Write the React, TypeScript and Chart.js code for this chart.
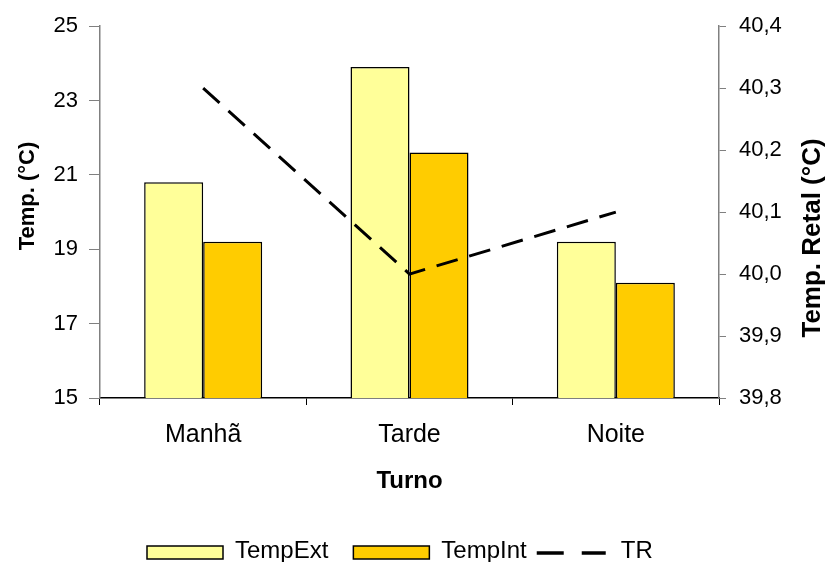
import React, { useEffect, useRef } from "react";
import { Chart, registerables } from "chart.js";

Chart.register(...registerables);

const categories = ["Manhã", "Tarde", "Noite"];
const tempExt = [20.8, 23.9, 19.2];
const tempInt = [19.2, 21.6, 18.1];
const tr = [40.3, 40.0, 40.1];
const leftTitle = "Temp. (°C)";
const rightTitle = "Temp. Retal (°C)";

const FONT = "'Liberation Sans', Arial, sans-serif";

const titlesPlugin = {
  id: "yTitles",
  afterDraw(chart: any) {
    const ctx = chart.ctx;
    ctx.save();
    ctx.fillStyle = "#000";
    ctx.textAlign = "center";
    ctx.textBaseline = "middle";
    ctx.font = `bold 22px ${FONT}`;
    ctx.save();
    ctx.translate(28, 196);
    ctx.rotate(-Math.PI / 2);
    ctx.fillText(leftTitle, 0, 0);
    ctx.restore();
    ctx.font = `bold 26px ${FONT}`;
    ctx.save();
    ctx.translate(813, 238);
    ctx.rotate(-Math.PI / 2);
    ctx.fillText(rightTitle, 0, 0);
    ctx.restore();
    ctx.restore();
  },
};

const legendPlugin = {
  id: "customLegend",
  afterDraw(chart: any) {
    const ctx = chart.ctx;
    ctx.save();
    ctx.font = `24px ${FONT}`;
    ctx.textBaseline = "alphabetic";
    ctx.fillStyle = "#000";
    let x = 147;
    const boxTop = 546;
    const boxH = 13;
    const textY = 558;
    const items = chart.data.datasets.map((d: any) => d);
    items.forEach((d: any, i: number) => {
      if (d.type === "line") {
        ctx.strokeStyle = "#000";
        ctx.lineWidth = 3.5;
        ctx.setLineDash([27, 18]);
        ctx.beginPath();
        ctx.moveTo(x, boxTop + 7);
        ctx.lineTo(x + 69, boxTop + 7);
        ctx.stroke();
        ctx.setLineDash([]);
        x += 69 + 15;
      } else {
        ctx.fillStyle = d.backgroundColor;
        ctx.fillRect(x, boxTop, 76, boxH);
        ctx.strokeStyle = "#000";
        ctx.lineWidth = 1.5;
        ctx.strokeRect(x, boxTop, 76, boxH);
        x += 76 + 12;
      }
      ctx.fillStyle = "#000";
      ctx.fillText(d.label, x, textY);
      x += ctx.measureText(d.label).width + 25;
      if (i === 1) x -= 15;
    });
    ctx.restore();
  },
};

export default function App() {
  const ref = useRef<HTMLCanvasElement | null>(null);
  useEffect(() => {
    if (!ref.current) return;
    const chart = new Chart(ref.current, {
      type: "bar",
      data: {
        labels: categories,
        datasets: [
          {
            type: "bar",
            label: "TempExt",
            data: tempExt,
            backgroundColor: "#FFFF99",
            borderColor: "#000",
            borderWidth: 1.5,
            borderSkipped: false,
            yAxisID: "y",
            categoryPercentage: 0.572,
            barPercentage: 1,
            order: 2,
          },
          {
            type: "bar",
            label: "TempInt",
            data: tempInt,
            backgroundColor: "#FFCC00",
            borderColor: "#000",
            borderWidth: 1.5,
            borderSkipped: false,
            yAxisID: "y",
            categoryPercentage: 0.572,
            barPercentage: 1,
            order: 2,
          },
          {
            type: "line",
            label: "TR",
            data: tr,
            borderColor: "#000",
            backgroundColor: "transparent",
            borderWidth: 3,
            borderDash: [22, 12],
            pointRadius: 0,
            fill: false,
            tension: 0,
            yAxisID: "y1",
            order: 1,
          } as any,
        ],
      },
      options: {
        animation: false,
        responsive: true,
        maintainAspectRatio: false,
        layout: { padding: { left: 14, right: 2, top: 23, bottom: 66 } },
        plugins: {
          legend: { display: false },
          tooltip: { enabled: false },
        },
        scales: {
          x: {
            offset: true,
            grid: {
              display: true,
              drawOnChartArea: false,
              drawTicks: true,
              tickLength: 7,
              color: "#000",
              offset: true,
            },
            border: { display: true, color: "#000", width: 1.5 },
            ticks: {
              color: "#000",
              font: { family: FONT, size: 25 },
              padding: 15,
              autoSkip: false,
              maxRotation: 0,
            },
            title: {
              display: true,
              text: "Turno",
              color: "#000",
              font: { family: FONT, size: 24, weight: "bold" },
              padding: 0,
            },
            afterFit: (s: any) => {
              s.height = 98;
            },
          },
          y: {
            position: "left",
            min: 15,
            max: 25,
            grid: {
              display: true,
              drawOnChartArea: false,
              drawTicks: true,
              tickLength: 11,
              color: "#808080",
            },
            border: { display: true, color: "#808080", width: 1.5 },
            ticks: {
              stepSize: 2,
              color: "#000",
              font: { family: FONT, size: 22 },
              padding: 11,
            },
            title: { display: false },
            afterFit: (s: any) => {
              s.width = 86;
            },
          },
          y1: {
            position: "right",
            min: 39.8,
            max: 40.4,
            grid: {
              display: true,
              drawOnChartArea: false,
              drawTicks: true,
              tickLength: 7,
              color: "#808080",
            },
            border: { display: true, color: "#808080", width: 1.5 },
            ticks: {
              stepSize: 0.1,
              color: "#000",
              font: { family: FONT, size: 22 },
              padding: 13,
              callback: (v: any) => Number(v).toFixed(1).replace(".", ","),
            },
            title: { display: false },
            afterFit: (s: any) => {
              s.width = 108;
            },
          },
        },
      },
      plugins: [legendPlugin, titlesPlugin],
    });
    return () => chart.destroy();
  }, []);
  return (
    <div style={{ position: "absolute", left: 0, top: 0, width: 829, height: 562 }}>
      <canvas ref={ref} />
    </div>
  );
}
